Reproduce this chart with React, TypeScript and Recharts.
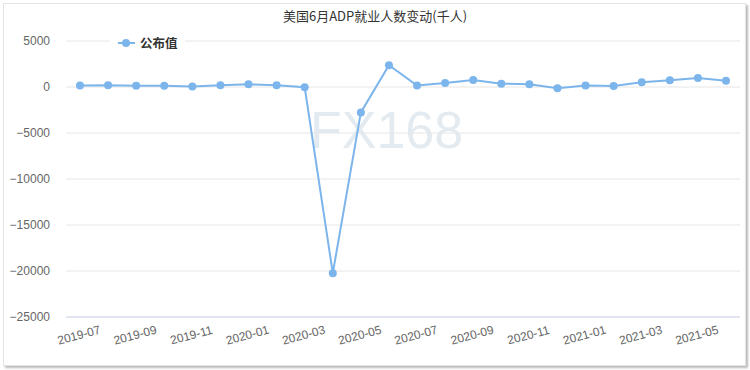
import { CartesianGrid, Line, LineChart, XAxis, YAxis } from "recharts";

const months = [
  "2019-07", "2019-08", "2019-09", "2019-10", "2019-11", "2019-12",
  "2020-01", "2020-02", "2020-03", "2020-04", "2020-05", "2020-06",
  "2020-07", "2020-08", "2020-09", "2020-10", "2020-11", "2020-12",
  "2021-01", "2021-02", "2021-03", "2021-04", "2021-05", "2021-06",
];

const published = [
  156, 195, 125, 125, 67, 202,
  291, 183, -27, -20236, -2760, 2369,
  167, 428, 749, 365, 307, -123,
  174, 117, 517, 742, 978, 692,
];

const yTicks = [5000, 0, -5000, -10000, -15000, -20000, -25000];

const data = months.map((m, i) => ({ month: m, value: published[i] }));

const lineColor = "#7cb5ec";
const font = "'Liberation Sans', Arial, sans-serif";

function MonthTick({ x, y, payload }: any) {
  return (
    <text
      x={x}
      y={y + 14}
      transform={`rotate(-15, ${x}, ${y + 14})`}
      textAnchor="middle"
      fontSize={12}
      fontFamily={font}
      fill="#666"
    >
      {payload.value}
    </text>
  );
}

export default function App() {
  return (
    <div style={{ position: "absolute", left: 0, top: 0, width: 750, height: 370, background: "#fff" }}>
      <div
        style={{
          position: "absolute",
          left: 3,
          top: 3,
          width: 741,
          height: 361,
          border: "1px solid #e3e3e3",
          boxShadow: "2px 2px 2px #bbb",
          background: "#fff",
        }}
      />
      <div
        style={{
          position: "absolute",
          left: 310,
          top: 100,
          fontFamily: font,
          fontSize: 52,
          color: "#e4ebf0",
          lineHeight: "60px",
        }}
      >
        FX168
      </div>
      <div
        style={{
          position: "absolute",
          left: 0,
          top: 6,
          width: 750,
          textAlign: "center",
          fontFamily: "'Noto Sans CJK SC', sans-serif",
          fontSize: 13,
          color: "#333",
        }}
      >
        美国6月ADP就业人数变动(千人)
      </div>
      <div style={{ position: "absolute", left: 0, top: 0 }}>
        <LineChart width={750} height={370} data={data} margin={{ top: 41, right: 10, bottom: 0, left: 0 }}>
          <CartesianGrid vertical={false} stroke="#e6e6e6" />
          <XAxis
            dataKey="month"
            interval={1}
            padding={{ left: 14, right: 14 }}
            axisLine={{ stroke: "#ccd6eb" }}
            tickLine={false}
            tick={<MonthTick />}
            height={53}
          />
          <YAxis
            type="number"
            domain={[-25000, 5000]}
            ticks={yTicks}
            interval={0}
            width={66}
            axisLine={false}
            tickLine={false}
            tickSize={0}
            tickMargin={16}
            tickFormatter={(v: number) => String(v).replace("-", "−")}
            tick={{ fontSize: 12, fontFamily: font, fill: "#666" }}
          />
          <Line
            type="linear"
            dataKey="value"
            stroke={lineColor}
            strokeWidth={2}
            dot={{ r: 4, fill: lineColor, stroke: lineColor, strokeWidth: 0 }}
            isAnimationActive={false}
          />
        </LineChart>
      </div>
      <div
        style={{
          position: "absolute",
          left: 110,
          top: 33,
          width: 75,
          height: 19,
          background: "#fff",
          display: "flex",
          alignItems: "center",
        }}
      >
        <svg width={28} height={19} style={{ display: "block" }}>
          <line x1={8} y1={10} x2={25} y2={10} stroke={lineColor} strokeWidth={2} />
          <circle cx={16} cy={10} r={4} fill={lineColor} />
        </svg>
        <span
          style={{
            fontFamily: "'Noto Sans CJK SC', sans-serif",
            fontSize: 12.5,
            fontWeight: 700,
            color: "#333",
            marginLeft: 2,
          }}
        >
          公布值
        </span>
      </div>
    </div>
  );
}
